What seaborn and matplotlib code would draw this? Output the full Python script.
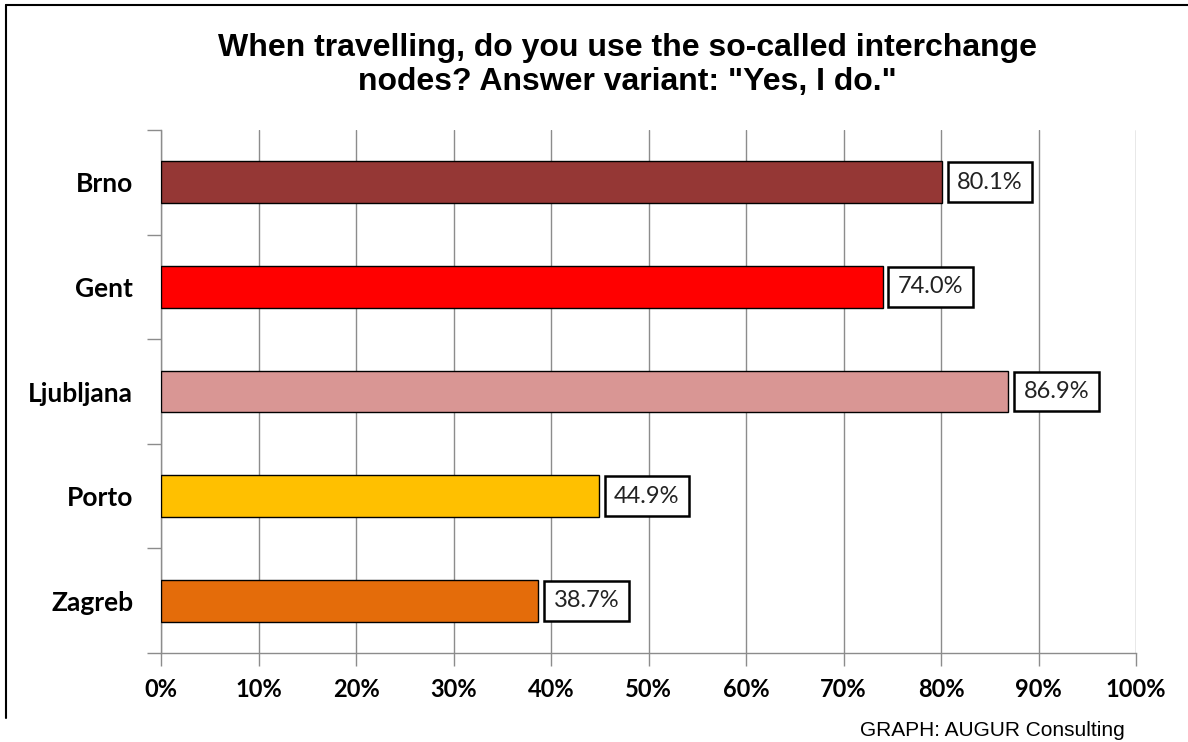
import matplotlib
matplotlib.use("Agg")
import matplotlib.pyplot as plt
import seaborn as sns
import pandas as pd
from matplotlib.lines import Line2D
from matplotlib.ticker import FixedLocator

# data
cities = ["Brno", "Gent", "Ljubljana", "Porto", "Zagreb"]
share_yes = [80.1, 74.0, 86.9, 44.9, 38.7]
bar_colors = ["#953735", "#FF0000", "#D99694", "#FFC000", "#E46C0A"]
x_ticks = [0, 10, 20, 30, 40, 50, 60, 70, 80, 90, 100]
title = 'When travelling, do you use the so-called interchange\nnodes? Answer variant: "Yes, I do."'
credit = "GRAPH: AUGUR Consulting"

df = pd.DataFrame({"city": cities, "share": share_yes})

sns.set_style("white")
plt.rcParams["font.family"] = ["Liberation Sans", "DejaVu Sans"]
plt.rcParams["text.color"] = "black"
plt.rcParams["xtick.labelcolor"] = "black"
plt.rcParams["ytick.labelcolor"] = "black"

fig = plt.figure(figsize=(11.88, 7.42), dpi=100)
ax = fig.add_axes([161 / 1188, 1 - 653 / 742, (1136 - 161) / 1188, (653 - 130) / 742])

sns.barplot(data=df, y="city", x="share", hue="city", palette=bar_colors,
            saturation=1, orient="h", width=0.4, edgecolor="black", linewidth=1.0,
            legend=False, ax=ax, zorder=3)

ax.set_xlim(0, 100)
ax.set_ylim(len(cities) - 0.5, -0.5)
ax.set_xlabel("")
ax.set_ylabel("")

# vertical gridlines
ax.set_xticks(x_ticks)
ax.set_xticklabels([f"{t}%" for t in x_ticks], fontfamily="Lato",
                   fontweight="bold", fontsize=17, color="black")
ax.grid(axis="x", color="#8c8c8c", linewidth=1.0, zorder=0)
ax.grid(axis="y", visible=False)
ax.tick_params(axis="x", which="major", length=9, width=1.0, color="#8c8c8c",
               direction="out", pad=9, bottom=True)

# category labels, with boundary tick marks like the original
ax.set_yticks(range(len(cities)))
ax.set_yticklabels(cities, fontfamily="Lato", fontweight="bold", fontsize=19,
                   color="black")
ax.tick_params(axis="y", which="major", length=0, pad=20)
ax.yaxis.set_minor_locator(FixedLocator([i - 0.5 for i in range(len(cities) + 1)]))
ax.tick_params(axis="y", which="minor", length=10, width=1.0, color="#8c8c8c",
               direction="out", left=True)

for side in ["top", "right"]:
    ax.spines[side].set_visible(False)
for side in ["left", "bottom"]:
    ax.spines[side].set_color("#8c8c8c")
    ax.spines[side].set_linewidth(1.0)

# boxed value labels
for i, v in enumerate(share_yes):
    ax.annotate(f"{v:.1f}%", xy=(v, i), xytext=(11, 0), textcoords="offset points",
                ha="left", va="center", fontfamily="Lato", fontsize=17,
                color="#222222",
                bbox=dict(boxstyle="square,pad=0.4", facecolor="white",
                          edgecolor="black", linewidth=1.8), zorder=5)

fig.text(0.528, 1 - 65 / 742, title, ha="center", va="center",
         fontsize=23, fontweight="bold", linespacing=1.15)
fig.text(1125 / 1188, 1 - 731 / 742, credit, ha="right", va="center", fontsize=15)

# outer frame of the chart (runs off the right edge)
fig.add_artist(Line2D([6 / 1188, 1.0], [1 - 5 / 742, 1 - 5 / 742],
                      transform=fig.transFigure, color="black", linewidth=1.5))
fig.add_artist(Line2D([6 / 1188, 6 / 1188], [1 - 5 / 742, 1 - 718 / 742],
                      transform=fig.transFigure, color="black", linewidth=1.5))

fig.savefig("out.png", dpi=100)
